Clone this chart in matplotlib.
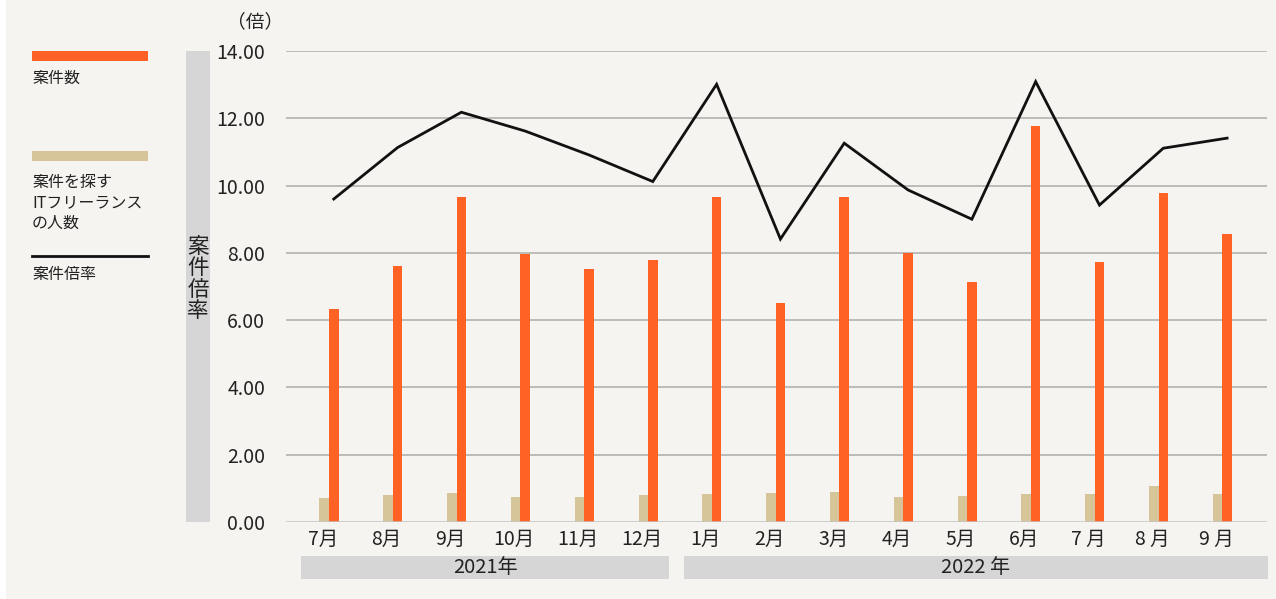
import matplotlib
matplotlib.use("Agg")
import matplotlib.pyplot as plt
import matplotlib.transforms as mtransforms
from matplotlib.patches import Rectangle
from matplotlib.lines import Line2D
import numpy as np

plt.rcParams['font.family'] = ['Noto Sans CJK JP', 'DejaVu Sans']

months = ["7月", "8月", "9月", "10月", "11月", "12月", "1月", "2月", "3月",
          "4月", "5月", "6月", "7 月", "8 月", "9 月"]
years = ["2021年", "2022 年"]
year_counts = [6, 9]
jobs = [6.33, 7.61, 9.66, 7.97, 7.52, 7.79, 9.66, 6.51, 9.66, 8.00, 7.13, 11.77, 7.73, 9.78, 8.56]
seekers = [0.71, 0.80, 0.86, 0.74, 0.74, 0.80, 0.83, 0.86, 0.89, 0.74, 0.77, 0.83, 0.83, 1.07, 0.83]
ratio = [9.60, 11.13, 12.18, 11.62, 10.91, 10.12, 13.01, 8.41, 11.26, 9.87, 9.00, 13.09, 9.42, 11.11, 11.41]
yticks = [0, 2, 4, 6, 8, 10, 12, 14]

ORANGE = "#FF6224"
BEIGE = "#D5C599"
BG = "#F5F4F0"
GRAYBOX = "#D6D6D6"
TXT = "#222222"

W, H = 1276, 599
fig = plt.figure(figsize=(W / 100, H / 100), dpi=100)
fig.patch.set_facecolor(BG)
fig.patches.append(Rectangle((0, 0), 6 / W, 1, transform=fig.transFigure,
                             facecolor="white", edgecolor="none", zorder=0))

ax = fig.add_axes([286 / W, 1 - 522 / H, (1267 - 286) / W, (522 - 51) / H])
ax.set_facecolor(BG)

x = np.arange(len(months))
w = 0.149
ax.bar(x - w / 2, seekers, width=w, color=BEIGE, zorder=3)
ax.bar(x + w / 2, jobs, width=w, color=ORANGE, zorder=3)
ax.plot(x + w / 2, ratio, color="#111111", lw=2.0, zorder=4, solid_joinstyle="miter")

ax.set_xlim(-0.674, 14.70)
ax.set_ylim(0, 14)
ax.set_yticks(yticks)
ax.set_yticklabels([f"{v:.2f}" for v in yticks], fontsize=14, color=TXT)
ax.set_xticks(x - 0.1)
ax.set_xticklabels(months, fontsize=14, color=TXT)
ax.tick_params(axis="y", length=0, pad=15)
ax.tick_params(axis="x", length=0, pad=5)
for s in ["top", "right", "left", "bottom"]:
    ax.spines[s].set_visible(False)
for v in yticks[1:]:
    ax.axhline(v, color="#ADABA7", lw=1.1, zorder=1)
ax.axhline(0, color="#C4C4C4", lw=1.8, zorder=5)

# year bands
trans = mtransforms.blended_transform_factory(ax.transData, fig.transFigure)
start = 0
pads = [(-0.44, 0.33), (-0.44, 0.72)]
for yr, cnt, (pl, pr) in zip(years, year_counts, pads):
    x0 = start + pl
    x1 = start + cnt - 1 + pr
    rect = Rectangle((x0, 1 - 579 / H), x1 - x0, 23 / H, transform=trans,
                     facecolor=GRAYBOX, edgecolor="none", clip_on=False, zorder=1)
    ax.add_patch(rect)
    ax.text((x0 + x1) / 2, 1 - 567.5 / H, yr, transform=trans, ha="center", va="center",
            fontsize=14.5, color=TXT, zorder=6, clip_on=False)
    start += cnt

# y unit
fig.text(255 / W, 1 - 22 / H, "（倍）", ha="center", va="center", fontsize=13.5, color=TXT)

# vertical title box
fig.patches.append(Rectangle((186 / W, 1 - 522 / H), 24 / W, 471 / H, transform=fig.transFigure,
                             facecolor=GRAYBOX, edgecolor="none"))
fig.text(198 / W, 1 - 279 / H, "案\n件\n倍\n率", ha="center", va="center", fontsize=15.5,
         color=TXT, linespacing=0.98)

# legend
fig.patches.append(Rectangle((32 / W, 1 - 61 / H), 116 / W, 10 / H, transform=fig.transFigure,
                             facecolor=ORANGE, edgecolor="none"))
fig.text(32 / W, 1 - 78 / H, "案件数", ha="left", va="center", fontsize=11.5, color=TXT)
fig.patches.append(Rectangle((32 / W, 1 - 161 / H), 116 / W, 10 / H, transform=fig.transFigure,
                             facecolor=BEIGE, edgecolor="none"))
fig.text(32 / W, 1 - 203 / H, "案件を探す\nITフリーランス\nの人数", ha="left", va="center",
         fontsize=11.5, color=TXT, linespacing=1.25)
fig.lines.append(Line2D([32 / W, 148 / W], [1 - 256 / H, 1 - 256 / H], transform=fig.transFigure,
                        color="#111111", lw=2.0))
fig.text(32 / W, 1 - 275 / H, "案件倍率", ha="left", va="center", fontsize=11.5, color=TXT)

fig.savefig("out.png", dpi=100, facecolor=BG)
